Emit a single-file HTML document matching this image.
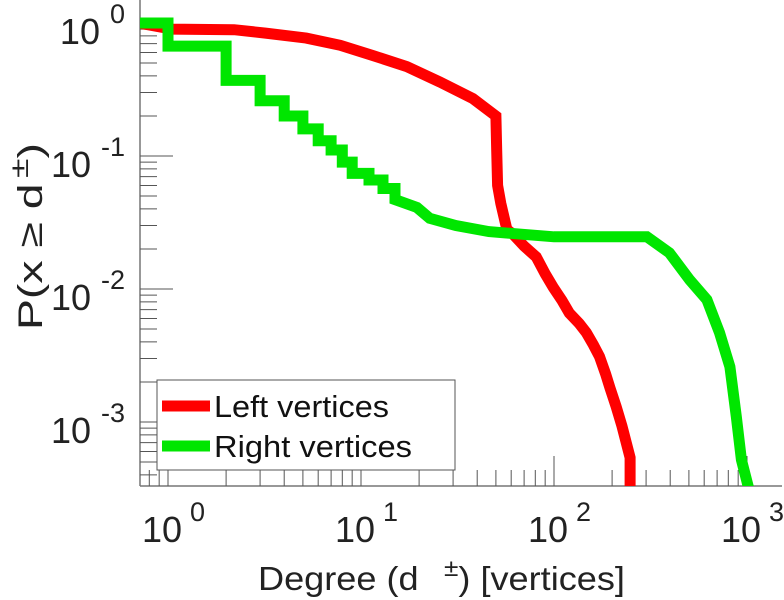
<!DOCTYPE html>
<html><head><meta charset="utf-8"><style>
html,body{margin:0;padding:0;background:#fff;}
svg{display:block;font-family:"Liberation Sans",sans-serif;}
</style></head><body>
<svg id="chart" width="784" height="600" viewBox="0 0 784 600">
<defs><clipPath id="plotclip"><rect x="140" y="0" width="642" height="486"/></clipPath></defs>
<g id="axes"></g>
<g id="series" clip-path="url(#plotclip)"></g>
<g id="legend">
  <rect x="157" y="380" width="298" height="90" fill="#fff" stroke="#555" stroke-width="1"/>
  <line x1="162" y1="406" x2="210" y2="406" stroke="#ff0000" stroke-width="11"/>
  <text x="214" y="417" font-size="31" textLength="175" lengthAdjust="spacingAndGlyphs" fill="#111">Left vertices</text>
  <line x1="162" y1="446" x2="210" y2="446" stroke="#00e600" stroke-width="11"/>
  <text x="214" y="457" font-size="31" textLength="198" lengthAdjust="spacingAndGlyphs" fill="#111">Right vertices</text>
</g>
<text x="258" y="590" font-size="33" textLength="367" lengthAdjust="spacingAndGlyphs" fill="#222">Degree (d <tspan dx="14" dy="-14" font-size="24">±</tspan><tspan dy="14">) [vertices]</tspan></text>
<text transform="translate(42,330) rotate(-90)" font-size="34" textLength="187" lengthAdjust="spacingAndGlyphs" fill="#222">P(x ≥ d<tspan dx="4" dy="-14" font-size="26">±</tspan><tspan dy="14">)</tspan></text>
</svg>
<script>
const xTickExps = [0, 1, 2, 3];
const yTickExps = [0, -1, -2, -3];
const leftDeg  = [0.7, 1.05, 2.2, 3.2, 5.2, 7.8, 11.5, 17.3, 25.6, 38, 50, 50.5, 51, 53, 57, 61, 70, 81, 90, 99, 110, 120, 135, 147, 160, 172, 185, 195, 210, 225, 248, 248];
const leftP    = [1.0, 0.90, 0.89, 0.84, 0.77, 0.68, 0.57, 0.47, 0.36, 0.27, 0.20, 0.11, 0.06, 0.044, 0.028, 0.026, 0.021, 0.0174, 0.013, 0.0103, 0.0082, 0.0066, 0.0055, 0.0047, 0.0038, 0.0031, 0.0023, 0.0018, 0.0013, 0.00093, 0.00054, 0.0003];
const rightDeg = [0.7, 1, 2, 3, 4, 5, 6, 7, 8, 9, 11, 13, 15, 19.5, 22.7, 31, 46, 100, 303, 396, 505, 620, 720, 815, 880, 935, 1030];
const rightP   = [1.0, 0.67, 0.37, 0.26, 0.20, 0.16, 0.13, 0.111, 0.090, 0.074, 0.066, 0.057, 0.047, 0.041, 0.034, 0.030, 0.027, 0.0247, 0.0247, 0.0187, 0.0117, 0.0083, 0.0047, 0.0026, 0.0011, 0.00052, 0.0003];
const rightStepCount = 13;

const NS = "http://www.w3.org/2000/svg";
const X0 = 168, XD = 193, Y0 = 23, YD = 133, AX = 140, AY = 486, AR = 782;
function xs(d){ return X0 + XD * Math.log10(d); }
function ys(p){ return Y0 - YD * Math.log10(p); }
function mk(tag, attrs, parent){ const e = document.createElementNS(NS, tag); for (const k in attrs) e.setAttribute(k, attrs[k]); parent.appendChild(e); return e; }

const axes = document.getElementById('axes');
const ax1 = mk('line', {x1:AX, y1:0, x2:AX, y2:AY, stroke:'#777', 'stroke-width':1.5}, axes);


const ax2 = mk('line', {x1:AX, y1:AY, x2:AR, y2:AY, stroke:'#777', 'stroke-width':1.5}, axes);



for (let e = -1; e <= 3; e++) {
  for (let m = 1; m <= 9; m++) {
    const d = m * Math.pow(10, e);
    const x = xs(d);
    if (x < AX || x > AR) continue;
    const len = m === 1 ? 30 : 16;
    const t = mk('line', {x1:x, y1:AY, x2:x, y2:AY - len, stroke:'#555', 'stroke-width':1}, axes);
    
    
  }
}
xTickExps.forEach(e => {
  const x = xs(Math.pow(10, e));
  const t = mk('text', {x:x - 26, y:542, 'font-size':36, fill:'#222'}, axes);
  t.innerHTML = '10<tspan dx="8" dy="-21" font-size="27">' + e + '</tspan>';
  
  
});
for (let e = -4; e <= 0; e++) {
  for (let m = 1; m <= 9; m++) {
    const p = m * Math.pow(10, e);
    const y = ys(p);
    if (y < 0 || y > AY) continue;
    const len = (m === 1 && e !== 0) ? 33 : 17;
    const t = mk('line', {x1:AX, y1:y, x2:AX + len, y2:y, stroke:'#555', 'stroke-width':1}, axes);
    
    
  }
}
yTickExps.forEach(e => {
  const y = ys(Math.pow(10, e));
  const t = mk('text', {x:125, y:y + 21, 'font-size':36, 'text-anchor':'end', fill:'#222'}, axes);
  t.innerHTML = '10<tspan dx="10" dy="-21" font-size="27">' + e + '</tspan>';
  
  
});

const series = document.getElementById('series');
function pathLinear(D, P){ return D.map((d,i)=>(i?'L':'M') + xs(d).toFixed(1) + ' ' + ys(P[i]).toFixed(1)).join(' '); }
const lp = mk('path', {d:pathLinear(leftDeg, leftP), fill:'none', stroke:'#ff0000', 'stroke-width':11, 'stroke-linejoin':'miter'}, series);



let rd = '';
for (let i = 0; i < rightDeg.length; i++) {
  const x = xs(rightDeg[i]).toFixed(1), y = ys(rightP[i]).toFixed(1);
  if (i === 0) { rd += 'M' + x + ' ' + y; continue; }
  if (i < rightStepCount) rd += ' L' + x + ' ' + ys(rightP[i-1]).toFixed(1);
  rd += ' L' + x + ' ' + y;
}
const rp = mk('path', {d:rd, fill:'none', stroke:'#00e600', 'stroke-width':11, 'stroke-linejoin':'miter'}, series);


</script>
</body></html>
